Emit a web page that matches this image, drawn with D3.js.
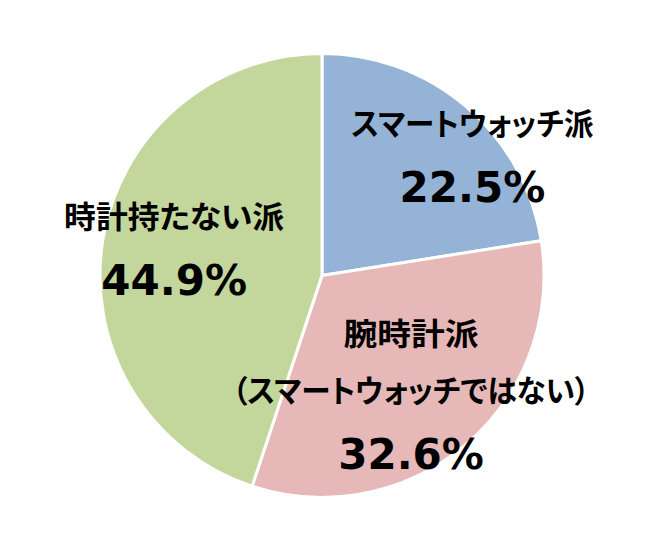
<!DOCTYPE html>
<html>
<head>
<meta charset="utf-8">
<script src="https://cdn.jsdelivr.net/npm/d3@7"></script>
<style>
  html, body { margin: 0; padding: 0; background: #fff; }
  svg { display: block; }
  .name { font-family: "Noto Sans CJK JP", sans-serif; font-weight: bold; font-size: 31px; fill: #000; font-feature-settings: "palt"; }
  .pct { font-family: "DejaVu Sans", Verdana, sans-serif; font-weight: bold; font-size: 42px; fill: #000; }
</style>
</head>
<body>
<div id="chart"></div>
<script>
// data
const categories = ['スマートウォッチ派', '腕時計派', '時計持たない派'];
const nameLines = [['スマートウォッチ派'], ['腕時計派', '（スマートウォッチではない）'], ['時計持たない派']];
const values = [22.5, 32.6, 44.9];
const colors = ['#95b3d7', '#e6b9b8', '#c3d69b'];

const width = 650, height = 554;
const cx = 322, cy = 275.5, radius = 222;

// label nudges from the label-arc centroid (dx, dy of the block's first baseline)
const labelNudge = {
  'スマートウォッチ派': { dx: 61, dy: -36 },
  '腕時計派': { dx: 0, dy: -35 },
  '時計持たない派': { dx: -12, dy: -26 }
};
// rendered widths of the name lines (the original font has narrow kana)
const lineWidth = {
  'スマートウォッチ派': 242,
  '腕時計派': 135,
  '（スマートウォッチではない）': 357,
  '時計持たない派': 220
};
const lineGap = 57;   // name line spacing
const pctGap = 67;    // last name line -> percent

const svg = d3.select('#chart').append('svg')
  .attr('width', width)
  .attr('height', height);

const g = svg.append('g').attr('transform', `translate(${cx},${cy})`);

const pie = d3.pie().sort(null).value(d => d.value);
const arc = d3.arc().innerRadius(0).outerRadius(radius);
const labelArc = d3.arc().innerRadius(radius * 0.62).outerRadius(radius * 0.62);

const rows = categories.map((c, i) => ({ name: c, lines: nameLines[i], value: values[i], color: colors[i] }));
const arcs = pie(rows);

g.selectAll('path.slice')
  .data(arcs)
  .join('path')
  .attr('class', 'slice')
  .attr('d', arc)
  .attr('fill', d => d.data.color)
  .attr('stroke', '#fff')
  .attr('stroke-width', 3)
  .attr('stroke-linejoin', 'round');

const labels = g.selectAll('g.label')
  .data(arcs)
  .join('g')
  .attr('class', 'label')
  .attr('transform', d => {
    const [x, y] = labelArc.centroid(d);
    const n = labelNudge[d.data.name];
    return `translate(${x + n.dx},${y + n.dy})`;
  });

labels.each(function(d) {
  const el = d3.select(this);
  d.data.lines.forEach((t, i) => {
    el.append('text')
      .attr('class', 'name')
      .attr('text-anchor', 'middle')
      .attr('y', i * lineGap)
      .attr('textLength', lineWidth[t])
      .attr('lengthAdjust', 'spacingAndGlyphs')
      .text(t);
  });
  el.append('text')
    .attr('class', 'pct')
    .attr('text-anchor', 'middle')
    .attr('y', (d.data.lines.length - 1) * lineGap + pctGap)
    .text(d3.format('.1f')(d.data.value) + '%');
});
</script>
</body>
</html>
